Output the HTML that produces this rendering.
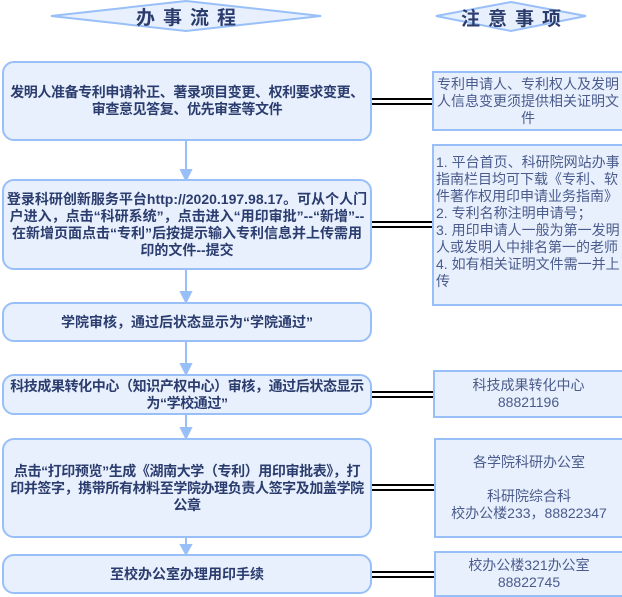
<!DOCTYPE html>
<html><head><meta charset="utf-8"><style>
body{margin:0;width:622px;height:597px;background:#fff;position:relative;overflow:hidden;font-family:"Liberation Sans","Noto Sans CJK SC",sans-serif;}
.b{position:absolute;box-sizing:border-box;background:#e8f0fd;border:2px solid #99bff8;border-radius:12px;display:flex;align-items:center;justify-content:center;text-align:center;font-weight:bold;font-size:14px;line-height:17px;color:#2b3c6e;padding:0 2px;}
.r{position:absolute;box-sizing:border-box;background:#e8f0fd;border:2px solid #99bff8;display:flex;align-items:center;justify-content:center;text-align:center;font-size:14px;line-height:17px;color:#4a5b8c;padding:0 2px;}
.nw{white-space:nowrap;letter-spacing:-0.4px;padding:0;}
svg{position:absolute;left:0;top:0;}
.t{position:absolute;font-weight:bold;font-size:19px;color:#2b3c6e;letter-spacing:8px;text-align:center;}
</style></head><body>
<svg width="622" height="597">
<polygon points="51,16 186,1 321,16 186,31" fill="#e8f0fd" stroke="#99bff8" stroke-width="2"/>
<polygon points="436,16 511,2 586,16 511,31" fill="#e8f0fd" stroke="#99bff8" stroke-width="2"/>
<g stroke="#99bff8" stroke-width="2" fill="#99bff8">
<line x1="186" y1="141" x2="186" y2="172"/><polygon points="181,170 191,170 186,180"/>
<line x1="186" y1="270" x2="186" y2="294"/><polygon points="181,292 191,292 186,302"/>
<line x1="186" y1="342" x2="186" y2="366"/><polygon points="181,364 191,364 186,374"/>
<line x1="186" y1="415" x2="186" y2="430"/><polygon points="181,428 191,428 186,438"/>
<line x1="186" y1="538" x2="186" y2="546"/><polygon points="181,545 191,545 186,554"/>
</g>
<g stroke="#000" stroke-width="2">
<line x1="372" y1="99" x2="433" y2="99"/><line x1="372" y1="104" x2="433" y2="104"/>
<line x1="372" y1="222" x2="433" y2="222"/><line x1="372" y1="227" x2="433" y2="227"/>
<line x1="372" y1="392" x2="434" y2="392"/><line x1="372" y1="397" x2="434" y2="397"/>
<line x1="372" y1="485" x2="434" y2="485"/><line x1="372" y1="490" x2="434" y2="490"/>
<line x1="372" y1="572" x2="434" y2="572"/><line x1="372" y1="577" x2="434" y2="577"/>
</g>
</svg>
<div class="t" style="left:130px;top:3px;width:120px;">办事流程</div>
<div class="t" style="left:455px;top:4px;width:120px;">注意事项</div>

<div class="b nw" style="left:2px;top:61px;width:370px;height:80px;">发明人准备专利申请补正、著录项目变更、权利要求变更、<br>审查意见答复、优先审查等文件</div>
<div class="r" style="left:432px;top:71px;width:192px;height:60px;">专利申请人、专利权人及发明人信息变更须提供相关证明文件</div>

<div class="b" style="left:2px;top:179px;width:370px;height:91px;">登录科研创新服务平台http://2020.197.98.17。可从个人门户进入，点击“科研系统”，点击进入“用印审批”--“新增”--在新增页面点击“专利”后按提示输入专利信息并上传需用印的文件--提交</div>
<div class="r" style="left:432px;top:144px;width:192px;height:162px;text-align:left;justify-content:flex-start;align-items:flex-start;padding-top:8px;">1. 平台首页、科研院网站办事指南栏目均可下载《专利、软件著作权用印申请业务指南》<br>2. 专利名称注明申请号；<br>3. 用印申请人一般为第一发明人或发明人中排名第一的老师<br>4. 如有相关证明文件需一并上传</div>

<div class="b" style="left:2px;top:302px;width:370px;height:40px;">学院审核，通过后状态显示为“学院通过”</div>

<div class="b nw" style="left:2px;top:374px;width:370px;height:41px;">科技成果转化中心（知识产权中心）审核，通过后状态显示<br>为“学校通过”</div>
<div class="r" style="left:433px;top:370px;width:191px;height:48px;">科技成果转化中心<br>88821196</div>

<div class="b nw" style="left:2px;top:438px;width:370px;height:100px;">点击“打印预览”生成《湖南大学（专利）用印审批表》，打<br>印并签字，携带所有材料至学院办理负责人签字及加盖学院<br>公章</div>
<div class="r" style="left:434px;top:438px;width:190px;height:100px;">各学院科研办公室<br><br>科研院综合科<br>校办公楼233，88822347</div>

<div class="b" style="left:2px;top:554px;width:370px;height:40px;">至校办公室办理用印手续</div>
<div class="r" style="left:434px;top:551px;width:190px;height:46px;">校办公楼321办公室<br>88822745</div>
</body></html>
